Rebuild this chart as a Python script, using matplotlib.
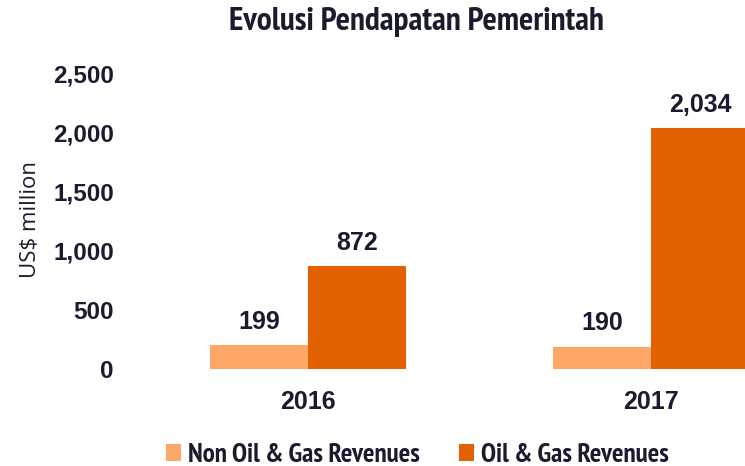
import os
import matplotlib
matplotlib.use("Agg")
import matplotlib.pyplot as plt
import numpy as np
from matplotlib import font_manager
from matplotlib.font_manager import FontProperties

years = ["2016", "2017"]
non_oil_gas = [199, 190]
oil_gas = [872, 2034]
series_names = ["Non Oil & Gas Revenues", "Oil & Gas Revenues"]
yticks = [0, 500, 1000, 1500, 2000, 2500]


def find_font(pred):
    for f in font_manager.fontManager.ttflist:
        b = os.path.basename(f.fname)
        if pred(b):
            return f.fname
    return None


narrow_bold = find_font(lambda b: "Narrow" in b and "Bold" in b and "Italic" not in b)
arial_bold = find_font(lambda b: b == "LiberationSans-Bold.ttf")


def fp(path, size, fallback_family="DejaVu Sans"):
    if path:
        return FontProperties(fname=path, size=size)
    return FontProperties(family=fallback_family, weight="bold", size=size)


TXT = "#1B1B30"
LIGHT = "#FDA766"
DARK = "#E36100"

fig = plt.figure(figsize=(7.45, 4.66), dpi=100)
W, H = 745, 466
left_px, right_px = 125, 745
top_px, bot_px = 73, 369
ax = fig.add_axes([left_px / W, 1 - bot_px / H, (right_px - left_px) / W, (bot_px - top_px) / H])

x = np.arange(len(years))
unit = 343.0
bw = 98 / unit
ax.bar(x - bw / 2, non_oil_gas, bw, color=LIGHT, label=series_names[0])
ax.bar(x + bw / 2, oil_gas, bw, color=DARK, label=series_names[1])

c0 = 308
ax.set_xlim((left_px - c0) / unit, (right_px - c0) / unit)
ax.set_ylim(0, 2500)

lab_fp = fp(arial_bold, 18)
for xi, v in zip(x - bw / 2, non_oil_gas):
    ax.text(xi, v + 95, f"{v:,}", ha="center", va="bottom", fontproperties=lab_fp, color=TXT)
for xi, v in zip(x + bw / 2, oil_gas):
    ax.text(xi, v + 95, f"{v:,}", ha="center", va="bottom", fontproperties=lab_fp, color=TXT)

for s in ax.spines.values():
    s.set_visible(False)
ax.set_yticks(yticks)
ax.set_yticklabels([f"{t:,}" for t in yticks], color=TXT)
for t in ax.get_yticklabels():
    t.set_fontproperties(fp(arial_bold, 17.5))
ax.tick_params(axis="y", length=0, pad=8)
ax.set_xticks(x)
ax.set_xticklabels(years, color=TXT)
for t in ax.get_xticklabels():
    t.set_fontproperties(fp(arial_bold, 18))
ax.tick_params(axis="x", length=0, pad=15)

fig.text(31 / W, 1 - 220 / H, "US$ million", rotation=90, ha="center", va="center",
         fontsize=16, color=TXT, family="Open Sans")
fig.text(416 / W, 1 - 22 / H, "Evolusi Pendapatan Pemerintah", ha="center", va="center",
         fontproperties=fp(narrow_bold, 24), color=TXT)

handles, labels = ax.get_legend_handles_labels()
leg = fig.legend(handles, labels, loc="center", bbox_to_anchor=(417 / W, 1 - 455 / H), ncol=2,
                 frameon=False, prop=fp(narrow_bold, 19.5),
                 handlelength=0.56, handleheight=0.56, handletextpad=0.25, columnspacing=1.45)
for t in leg.get_texts():
    t.set_color(TXT)

fig.savefig("out.png", dpi=100)
